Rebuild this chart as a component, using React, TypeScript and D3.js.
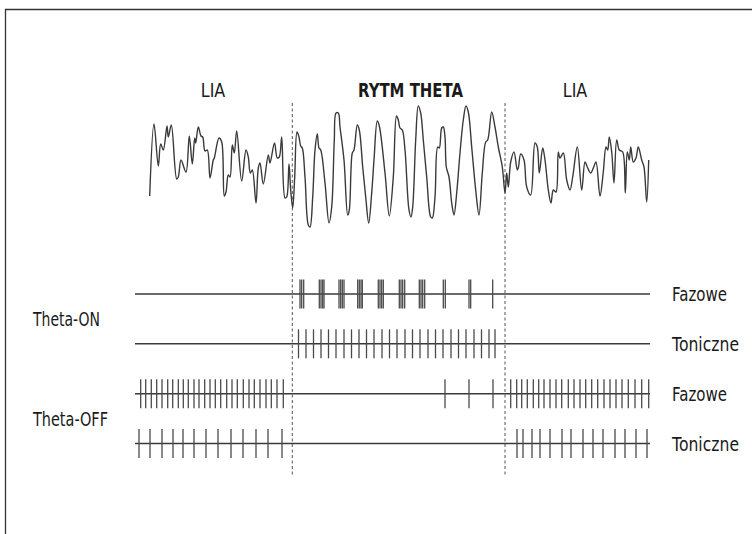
import React from "react";
import * as d3 from "d3";

// EEG trace: [time (ms), amplitude (µV)]
const eegTrace: [number, number][] = [
  [14.7,-26],[19,46],[23.3,4],[25.7,26],[28.3,20],[32,44],[33.3,33],[36.3,45],[41.7,-9],[43.3,-7],[46,10],[51,-2],[54.3,34],[57.3,6],[59.7,32],[60.7,27],[63.3,43],[66,34],[67.7,33],[70,19],[72.3,20],[75,-8],[78.3,10],[79.3,12],[84,32],[86.7,28],[89.3,-26],[91,-22],[93.3,-5],[95,-7],[97.3,25],[99.3,17],[101.7,39],[106.7,-11],[111,20],[113.3,13],[115.3,-3],[117.3,0],[121,-33],[123.3,2],[125,7],[128.3,-14],[133.3,15],[135,7],[139.5,27],[142.3,12],[144.3,13],[146.7,33],[150,-28],[151.7,-27],[154,6],[155.7,-20],[157.7,-38],[159.7,-7],[162,38],[164,33],[165.7,24],[167.3,22],[170,-7],[173.3,-55],[175,-57],[177.7,-27],[180,20],[182.3,36],[184,22],[185.7,20],[190,-13],[194,-53],[196.7,-37],[199.3,30],[201,57],[203.3,57],[205,43],[209,10],[212.7,-45],[214.3,-40],[217.3,17],[219,20],[222.3,45],[224.3,40],[227.7,3],[230.7,-27],[233.7,-53],[236.7,-23],[239,10],[242.3,49],[244.3,44],[250,-3],[254.3,-46],[258.3,-7],[261.5,54],[263.3,50],[265,42],[267.3,40],[270,20],[274,-40],[276,-47],[277.7,-37],[280.7,30],[283.3,64],[285.7,57],[288.3,30],[291.7,-7],[295.7,-47],[297.3,-48],[300,-27],[302.7,23],[304.3,22],[306.7,42],[308.3,43],[310,33],[311.3,3],[314,-7],[316.7,-33],[319,-45],[321.7,-23],[325,17],[328.3,50],[331,64],[333.3,58],[336.7,23],[340.7,-20],[344,-45],[347.3,-3],[350.7,28],[352.7,30],[356.7,58],[360,43],[363.3,23],[367.3,3],[370,-23],[371.7,-3],[373.3,-17],[375.7,8],[379,18],[382.3,0],[383.3,2],[385.7,16],[389,10],[391.7,-17],[395.7,-25],[400,27],[402.3,23],[404.3,-3],[407.7,22],[410,10],[413.3,-20],[416,-33],[418.3,-20],[421,-22],[423.3,18],[425,12],[428.3,17],[431.7,-10],[435,-20],[437.7,-7],[442.3,23],[446.7,-20],[450,8],[452.3,3],[455.7,-3],[458.3,2],[461,8],[465,-26],[468.3,-2],[471,23],[472.7,20],[474.3,33],[476.7,18],[479,-13],[481.7,30],[484.3,20],[487.7,18],[490.3,-23],[492.3,18],[494.3,10],[495.7,23],[498.3,8],[501,12],[503.3,23],[506.7,10],[509,3],[511.7,-32],[513.7,10]
];

// spike times (ms)
const thetaOnPhasic: number[] = [
  165,166.7,168.7, 184.3,186,187.7,189, 204,205.7,207.3,209, 222.7,224.3,226,227.3,
  243.3,245,246.7,248.3, 264.3,266,267.7,269.7, 284.3,286,287.7,289.7, 308.3,310.3, 334,335.7, 357.7
];
const thetaOnTonic: number[] = [
  163.5,171,178.5,186,193.5,201,209,216.5,224,231.5,239,247,254.5,262,270,277.5,285,293,300.5,308,316,323.5,331,339,346.5,354,360
];
const thetaOffPhasic: number[] = [
  5.7,10.7,16.3,21.7,27,32.7,37.7,43.3,48.3,53.3,59,64,69.7,75,80.3,85.7,91.7,97,102.3,108.3,114,119.3,125,131,136.3,142,148.3,
  310,334,358,
  375.7,381.7,386.7,392.3,398.3,403.7,409,415,421,426.7,433.3,439,445,450.7,456.7,462.7,469,475,481,487,493.3,500,506.7,513.7
];
const thetaOffTonic: number[] = [
  4,15,27,38,48,59,71,83,96,108,121,133,147,
  382,388,397,405,415,427,436,448,458,468,480,490,501,512
];

const rows = ["onPhasic", "onTonic", "offPhasic", "offTonic"];
const rowLabels = ["Fazowe", "Toniczne", "Fazowe", "Toniczne"];
const rowSpikes = [thetaOnPhasic, thetaOnTonic, thetaOffPhasic, thetaOffTonic];
const groupLabels = ["Theta-ON", "Theta-OFF"];
const stateBoundaries = [157.3, 370];
const stateLabels = ["LIA", "RYTM THETA", "LIA"];
const stateLabelTimes = [78, 275.5, 440];
const timeExtent: [number, number] = [0, 515];

// condensed-typeface widths (px) used to narrow the fallback font
const LABEL_WIDTH: Record<string, number> = {
  LIA: 24.5,
  "RYTM THETA": 105,
  Fazowe: 55,
  Toniczne: 67,
  "Theta-ON": 67,
  "Theta-OFF": 75,
};

const W = 752;
const H = 534;
const FONT = "'DejaVu Sans', sans-serif";

export default function App() {
  const x = d3.scaleLinear().domain(timeExtent).range([135, 650]);
  const y = d3.scaleLinear().domain([-60, 65]).range([230, 105]);
  const rowY = d3.scalePoint<string>().domain(rows).range([294, 443.5]);
  const line = d3
    .line<[number, number]>()
    .x((d) => x(d[0]))
    .y((d) => y(d[1]))
    .curve(d3.curveCatmullRom.alpha(0.5));
  const spikeHalf = 14.5;
  const ink = "#3a3a3a";

  return (
    <svg
      width={W}
      height={H}
      style={{ position: "absolute", left: 0, top: 0, background: "#fff" }}
      fontFamily={FONT}
    >
      <rect x={0} y={0} width={W} height={H} fill="#fff" />
      {/* frame */}
      <path d={`M5.5,${H} V9.5 H${W}`} fill="none" stroke="#333" strokeWidth={1.3} />

      {/* state labels */}
      {stateLabels.map((s, i) => (
        <text
          key={i}
          x={x(stateLabelTimes[i]) - LABEL_WIDTH[s] / 2}
          y={97}
          fontSize={19.5}
          fontWeight={i === 1 ? "bold" : "normal"}
          fill="#1a1a1a"
          textLength={LABEL_WIDTH[s]}
          lengthAdjust="spacingAndGlyphs"
        >
          {s}
        </text>
      ))}

      {/* dashed boundaries */}
      {stateBoundaries.map((t, i) => (
        <line
          key={i}
          x1={x(t)}
          x2={x(t)}
          y1={103}
          y2={476}
          stroke="#555"
          strokeWidth={1}
          strokeDasharray="3,2.5"
        />
      ))}

      {/* EEG */}
      <path d={line(eegTrace) || ""} fill="none" stroke={ink} strokeWidth={1.4} strokeLinejoin="round" />

      {/* spike rows */}
      {rows.map((r, i) => {
        const cy = rowY(r) as number;
        return (
          <g key={r}>
            <line x1={x(timeExtent[0])} x2={x(timeExtent[1])} y1={cy} y2={cy} stroke={ink} strokeWidth={1.5} />
            {rowSpikes[i].map((t, j) => (
              <line
                key={j}
                x1={x(t)}
                x2={x(t)}
                y1={cy - spikeHalf}
                y2={cy + spikeHalf}
                stroke="#4a4a4a"
                strokeWidth={1.3}
              />
            ))}
            <text
              x={672}
              y={cy + 7}
              fontSize={19}
              fill="#1a1a1a"
              textLength={LABEL_WIDTH[rowLabels[i]]}
              lengthAdjust="spacingAndGlyphs"
            >
              {rowLabels[i]}
            </text>
          </g>
        );
      })}

      {/* group labels */}
      {groupLabels.map((g, i) => {
        const cy = ((rowY(rows[i * 2]) as number) + (rowY(rows[i * 2 + 1]) as number)) / 2;
        return (
          <text
            key={g}
            x={33}
            y={cy + 7}
            fontSize={19}
            fill="#1a1a1a"
            textLength={LABEL_WIDTH[g]}
            lengthAdjust="spacingAndGlyphs"
          >
            {g}
          </text>
        );
      })}
    </svg>
  );
}
